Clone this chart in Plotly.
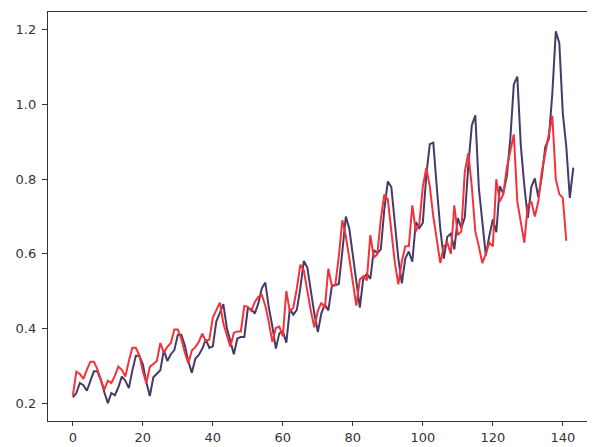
import plotly.graph_objects as go

actual = [
    0.215, 0.227, 0.254, 0.248, 0.233, 0.260, 0.285, 0.285, 0.262, 0.229, 0.200, 0.227,
    0.221, 0.242, 0.271, 0.260, 0.240, 0.287, 0.327, 0.327, 0.304, 0.256, 0.219, 0.269,
    0.279, 0.288, 0.342, 0.313, 0.331, 0.342, 0.383, 0.383, 0.354, 0.312, 0.281, 0.319,
    0.329, 0.346, 0.371, 0.348, 0.352, 0.419, 0.442, 0.465, 0.402, 0.367, 0.331, 0.373,
    0.377, 0.377, 0.454, 0.452, 0.440, 0.467, 0.508, 0.523, 0.456, 0.406, 0.346, 0.387,
    0.392, 0.362, 0.452, 0.437, 0.450, 0.508, 0.581, 0.563, 0.498, 0.440, 0.390, 0.440,
    0.465, 0.448, 0.513, 0.517, 0.519, 0.606, 0.700, 0.667, 0.600, 0.527, 0.456, 0.535,
    0.546, 0.533, 0.610, 0.602, 0.612, 0.719, 0.794, 0.779, 0.683, 0.588, 0.521, 0.588,
    0.606, 0.579, 0.685, 0.669, 0.683, 0.812, 0.894, 0.898, 0.777, 0.667, 0.587, 0.646,
    0.654, 0.612, 0.696, 0.669, 0.698, 0.837, 0.944, 0.971, 0.777, 0.690, 0.596, 0.648,
    0.692, 0.658, 0.781, 0.762, 0.808, 0.908, 1.054, 1.075, 0.890, 0.783, 0.696, 0.779,
    0.802, 0.752, 0.806, 0.887, 0.908, 1.029, 1.196, 1.165, 0.977, 0.887, 0.750, 0.831,
]

predicted = [
    0.220, 0.284, 0.278, 0.265, 0.289, 0.311, 0.311, 0.291, 0.262, 0.236, 0.260, 0.254,
    0.273, 0.298, 0.289, 0.271, 0.313, 0.348, 0.348, 0.328, 0.285, 0.253, 0.297, 0.306,
    0.313, 0.361, 0.335, 0.351, 0.361, 0.397, 0.397, 0.372, 0.335, 0.307, 0.341, 0.350,
    0.364, 0.386, 0.366, 0.370, 0.429, 0.449, 0.469, 0.414, 0.383, 0.351, 0.388, 0.392,
    0.392, 0.460, 0.458, 0.447, 0.471, 0.485, 0.490, 0.461, 0.417, 0.364, 0.401, 0.405,
    0.379, 0.500, 0.445, 0.456, 0.507, 0.571, 0.555, 0.498, 0.447, 0.403, 0.447, 0.469,
    0.454, 0.560, 0.515, 0.517, 0.593, 0.690, 0.647, 0.588, 0.524, 0.461, 0.531, 0.540,
    0.529, 0.650, 0.590, 0.599, 0.693, 0.759, 0.746, 0.661, 0.577, 0.518, 0.580, 0.620,
    0.620, 0.730, 0.660, 0.680, 0.780, 0.830, 0.780, 0.700, 0.635, 0.575, 0.620, 0.630,
    0.600, 0.730, 0.650, 0.660, 0.820, 0.870, 0.780, 0.660, 0.620, 0.575, 0.600, 0.630,
    0.620, 0.800, 0.740, 0.760, 0.830, 0.880, 0.920, 0.740, 0.680, 0.630, 0.730, 0.740,
    0.700, 0.740, 0.820, 0.870, 0.920, 0.970, 0.800, 0.760, 0.750, 0.635,
]

x_ticks = [0, 20, 40, 60, 80, 100, 120, 140]
y_ticks = [0.2, 0.4, 0.6, 0.8, 1.0, 1.2]
y_tick_text = ["0.2", "0.4", "0.6", "0.8", "1.0", "1.2"]

fig = go.Figure()
fig.add_trace(go.Scatter(
    x=list(range(len(actual))), y=actual, mode="lines",
    line=dict(color="#483a66", width=2), showlegend=False,
))
fig.add_trace(go.Scatter(
    x=list(range(len(predicted))), y=predicted, mode="lines",
    line=dict(color="#f2333c", width=2), showlegend=False,
))

axis_font = dict(family="DejaVu Sans", size=13, color="#3a3040")
fig.update_layout(
    width=587, height=439,
    margin=dict(l=40, r=0, t=4, b=26),
    paper_bgcolor="white", plot_bgcolor="white",
    xaxis=dict(
        range=[-7.1, 149.2], tickvals=x_ticks, showgrid=False, zeroline=False,
        showline=True, linecolor="#333333", linewidth=1.3, mirror=True,
        ticks="outside", ticklen=4, tickcolor="#333333", tickfont=axis_font,
    ),
    yaxis=dict(
        range=[0.152, 1.248], tickvals=y_ticks, ticktext=y_tick_text,
        showgrid=False, zeroline=False,
        showline=True, linecolor="#333333", linewidth=1.3, mirror=False,
        ticks="outside", ticklen=5, tickcolor="#333333", tickfont=axis_font,
        ticklabelstandoff=3,
    ),
)

fig.write_html("out.html")
